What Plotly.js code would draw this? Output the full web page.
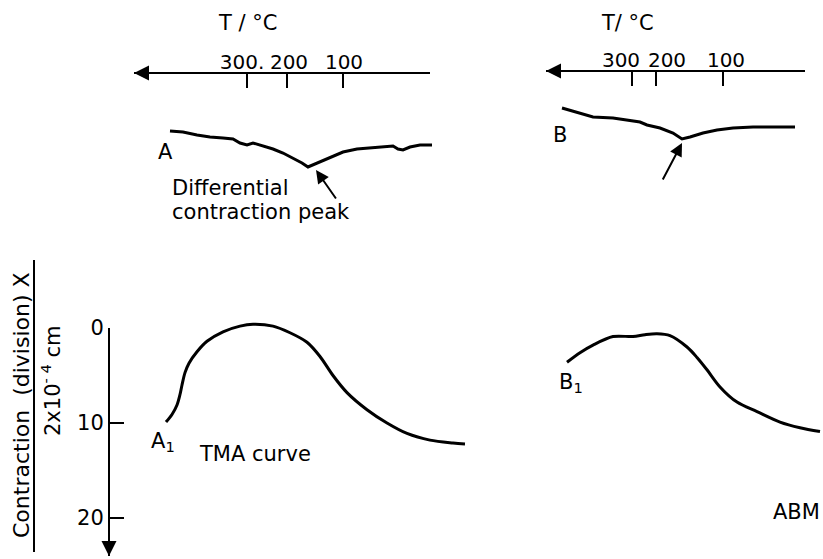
<!DOCTYPE html>
<html><head><meta charset="utf-8">
<script src="https://cdn.plot.ly/plotly-3.0.1.min.js"></script>
<style>html,body{margin:0;padding:0;background:#fff}#chart{width:823px;height:559px}</style>
</head><body><div id="chart"></div>
<script>
// ---- data ----
// Differential contraction curves (chart position, pen deflection)
const diffA_pos = [17.0,18.3,19.7,21.0,22.3,23.3,24.0,24.7,25.3,26.3,27.3,28.3,29.3,30.2,30.8,31.7,33.0,34.3,35.7,37.0,38.3,39.3,39.8,40.3,41.0,42.0,43.2];
const diffA_def = [13.1,13.2,13.5,13.7,13.8,13.9,14.3,14.5,14.3,14.6,14.9,15.3,15.8,16.3,16.7,16.3,15.7,15.2,14.9,14.8,14.7,14.6,14.9,15.0,14.7,14.5,14.5];
const diffB_pos = [56.2,57.3,59.3,61.3,62.7,64.0,64.7,66.0,67.3,68.2,69.0,70.3,71.7,73.3,75.3,77.3,79.5];
const diffB_def = [10.8,11.1,11.7,11.8,12.0,12.2,12.5,12.8,13.3,13.9,13.7,13.3,13.0,12.8,12.7,12.7,12.7];
// TMA curves (chart position, contraction in divisions)
const tmaA1_pos = [16.6,17.2,17.7,18.0,18.2,18.5,18.9,19.7,20.7,22.3,24.0,25.3,27.3,29.0,30.7,32.0,33.3,34.7,36.7,38.7,40.7,43.0,45.3,46.5];
const tmaA1_con = [9.9,9.1,8.1,7.0,6.0,4.7,3.7,2.5,1.4,0.4,-0.2,-0.4,-0.2,0.5,1.5,3.0,5.0,6.8,8.6,10.0,11.1,11.8,12.1,12.2];
const tmaB1_pos = [56.7,58.0,59.3,61.3,63.3,64.5,65.7,67.0,68.7,69.7,70.7,72.0,73.7,75.7,78.0,80.0,82.0];
const tmaB1_con = [3.6,2.6,1.8,0.9,0.9,0.7,0.6,0.8,2.0,3.1,4.4,6.2,7.8,8.8,9.9,10.5,10.9];
// Axis ticks
const contractionTicks = [0,10,20];
const tempLabelsA = ['300.','200','100'];
const tempTickPosA = [24.7,28.7,34.3];
const tempLabelPosA = [24.2,28.9,34.4];
const tempLabelsB = ['300','200','100'];
const tempTickPosB = [63.2,65.6,72.3];
const tempLabelPosB = [62.1,66.7,72.6];

const FONT = 'DejaVu Sans';
const W = 823, H = 559;
const py = v => 1 - v / H;   // paper helpers for layout placement
const px = v => v / W;

const lineStyle = {color:'#000', width:3};
const smooth = Object.assign({shape:'spline', smoothing:0.9}, lineStyle);
const traces = [
  {x:diffA_pos, y:diffA_def, xaxis:'x', yaxis:'y2', mode:'lines', line:lineStyle, hoverinfo:'skip'},
  {x:diffB_pos, y:diffB_def, xaxis:'x', yaxis:'y2', mode:'lines', line:lineStyle, hoverinfo:'skip'},
  {x:tmaA1_pos, y:tmaA1_con, xaxis:'x', yaxis:'y3', mode:'lines', line:smooth, hoverinfo:'skip'},
  {x:tmaB1_pos, y:tmaB1_con, xaxis:'x', yaxis:'y3', mode:'lines', line:smooth, hoverinfo:'skip'},
  {x:[], y:[], xaxis:'x', yaxis:'y', mode:'lines', hoverinfo:'skip'},
  {x:[], y:[], xaxis:'x2', yaxis:'y2', mode:'lines', hoverinfo:'skip'},
  {x:[], y:[], xaxis:'x3', yaxis:'y2', mode:'lines', hoverinfo:'skip'},
  {x:[], y:[], xaxis:'x4', yaxis:'y2', mode:'lines', hoverinfo:'skip'},
  {x:[], y:[], xaxis:'x5', yaxis:'y2', mode:'lines', hoverinfo:'skip'}
];

const tAxisBase = {anchor:'free', side:'top', showline:true, linewidth:2, linecolor:'#000',
  ticks:'inside', ticklen:14, tickwidth:2, tickcolor:'#000', showticklabels:false,
  showgrid:false, zeroline:false, fixedrange:true};
const tLabelBase = {anchor:'free', side:'top', showline:false, ticks:'', showgrid:false,
  zeroline:false, fixedrange:true, tickangle:0, tickfont:{family:FONT, size:20, color:'#000'}};

const ann = (o) => Object.assign({showarrow:false, xanchor:'center', yanchor:'middle', font:{family:FONT, size:21, color:'#000'}}, o);
const arrow = (o) => Object.assign({text:'', showarrow:true, arrowhead:2, arrowcolor:'#000', standoff:0}, o);

// TMA scale: 9.5 px per division, 0 at 328 px from top
const yMain = {top:328, bottom:556};
const yExt = {top:300, bottom:556};
const divPx = 9.5;

const layout = {
  width:W, height:H, margin:{l:0,r:0,t:0,b:0}, showlegend:false,
  paper_bgcolor:'#fff', plot_bgcolor:'rgba(0,0,0,0)',
  font:{family:FONT, size:21, color:'#000'},
  xaxis:{domain:[0,1], range:[0,82.3], visible:false, fixedrange:true},
  yaxis:{domain:[py(yMain.bottom), py(yMain.top)], range:[(yMain.bottom-yMain.top)/divPx, 0], anchor:'free', position:px(109),
    showline:true, linewidth:2, linecolor:'#000', ticks:'inside', ticklen:14, tickwidth:2,
    tickcolor:'#000', tickvals:contractionTicks, ticktext:contractionTicks.map(String),
    showgrid:false, zeroline:false, fixedrange:true, tickfont:{family:FONT, size:21, color:'#000'}},
  yaxis3:{domain:[py(yExt.bottom), py(yExt.top)], range:[(yExt.bottom-328)/divPx, (yExt.top-328)/divPx], visible:false, fixedrange:true},
  yaxis2:{domain:[0,1], range:[55.9,0], visible:false, fixedrange:true},
  xaxis2:Object.assign({}, tAxisBase, {domain:[px(134), px(430)], range:[13.4,43.0], position:py(73), tickvals:tempTickPosA}),
  xaxis3:Object.assign({}, tAxisBase, {domain:[px(546), px(805)], range:[54.6,80.5], position:py(71), tickvals:tempTickPosB}),
  xaxis4:Object.assign({}, tLabelBase, {domain:[px(134), px(430)], range:[13.4,43.0], position:py(73), tickvals:tempLabelPosA, ticktext:tempLabelsA}),
  xaxis5:Object.assign({}, tLabelBase, {domain:[px(546), px(805)], range:[54.6,80.5], position:py(71), tickvals:tempLabelPosB, ticktext:tempLabelsB}),
  shapes:[
    {type:'line', xref:'paper', yref:'paper', x0:px(34), x1:px(34), y0:py(260), y1:py(552), line:{color:'#000', width:2}}
  ],
  annotations:[
    ann({xref:'paper', yref:'paper', x:px(21), y:py(405), text:'Contraction  (division) X', textangle:-90, font:{family:FONT, size:22, color:'#000'}}),
    ann({xref:'paper', yref:'paper', x:px(51), y:py(381), text:'2x10<sup>- 4</sup> cm', textangle:-90}),
    ann({xref:'x', yref:'y2', x:24.7, y:2.3, text:'T / °C'}),
    ann({xref:'x', yref:'y2', x:62.7, y:2.3, text:'T/ °C'}),
    ann({xref:'x', yref:'y2', x:16.5, y:15.2, text:'A'}),
    ann({xref:'x', yref:'y2', x:56.0, y:13.5, text:'B'}),
    ann({xref:'x', yref:'y2', x:17.0, y:18.8, xanchor:'left', text:'Differential'}),
    ann({xref:'x', yref:'y2', x:17.0, y:21.2, xanchor:'left', text:'contraction peak'}),
    ann({xref:'x', yref:'y', x:16.3, y:12.0, text:'A<sub>1</sub>'}),
    ann({xref:'x', yref:'y', x:57.1, y:5.8, text:'B<sub>1</sub>'}),
    ann({xref:'x', yref:'y', x:25.5, y:13.3, text:'TMA curve'}),
    ann({xref:'x', yref:'y', x:79.6, y:19.4, text:'ABM'}),
    arrow({xref:'x', yref:'y2', axref:'x', ayref:'y2', x:31.6, y:17.0, ax:33.7, ay:20.0, arrowsize:1.3, arrowwidth:2}),
    arrow({xref:'x', yref:'y2', axref:'x', ayref:'y2', x:68.2, y:14.3, ax:66.2, ay:18.1, arrowsize:1.3, arrowwidth:2}),
    arrow({xref:'x2', yref:'paper', x:13.4, y:py(73), ax:22, ay:0, arrowsize:1.5, arrowwidth:2}),
    arrow({xref:'x3', yref:'paper', x:54.6, y:py(71), ax:22, ay:0, arrowsize:1.5, arrowwidth:2}),
    arrow({xref:'paper', yref:'y', x:px(109), y:(yMain.bottom-yMain.top)/divPx, ax:0, ay:-20, arrowsize:1.5, arrowwidth:2})
  ]
};

Plotly.newPlot('chart', traces, layout, {displayModeBar:false, staticPlot:true});
</script></body></html>
